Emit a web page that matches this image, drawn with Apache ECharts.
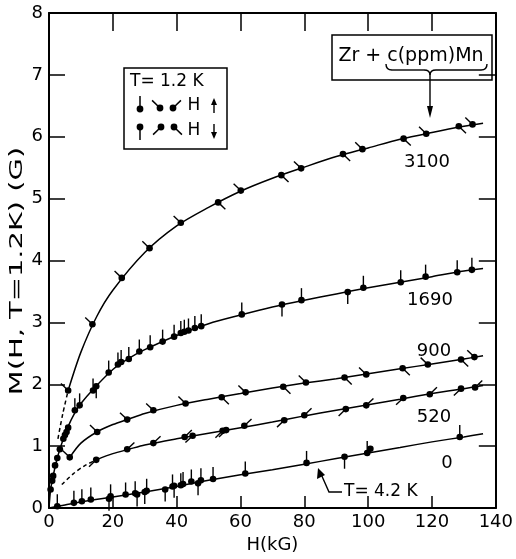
<!DOCTYPE html>
<html><head><meta charset="utf-8">
<script src="https://cdn.jsdelivr.net/npm/echarts@6/dist/echarts.min.js"></script>
<style>html,body{margin:0;padding:0;background:#fff}#c{width:516px;height:559px}</style>
</head><body><div id="c"></div>
<script>
// ---- axis ticks ----
const xTicks = [0, 20, 40, 60, 80, 100, 120, 140];
const yTicks = [0, 1, 2, 3, 4, 5, 6, 7, 8];

// ---- measured points: [H (kG), M (G), tick direction] ----
const pts3100 = [[6.0,1.90,'ul'],[13.6,2.97,'ul'],[22.8,3.72,'ul'],[31.5,4.20,'ul'],[41.3,4.61,'ul'],[53.0,4.94,'dr'],[60.1,5.13,'ul'],[72.8,5.38,'dr'],[79.0,5.49,'ul'],[92.1,5.72,'dr'],[98.2,5.80,'ul'],[111.1,5.97,'dr'],[118.2,6.05,'ul'],[128.4,6.17,'dr'],[132.7,6.20,'ul']];
const pts1690 = [[0.5,0.30,'n'],[1.0,0.44,'n'],[1.3,0.52,'n'],[1.9,0.69,'n'],[2.6,0.81,'n'],[3.4,0.95,'n'],[4.5,1.12,'n'],[5.0,1.18,'n'],[5.5,1.23,'n'],[6.0,1.30,'n'],[8.1,1.58,'u'],[9.6,1.66,'u'],[13.8,1.90,'u'],[14.8,1.97,'d'],[18.7,2.19,'u'],[21.6,2.32,'u'],[22.6,2.36,'u'],[25.0,2.41,'u'],[28.3,2.53,'u'],[31.7,2.60,'u'],[35.6,2.69,'u'],[39.2,2.77,'u'],[41.3,2.83,'u'],[42.4,2.85,'u'],[43.7,2.87,'u'],[45.7,2.91,'u'],[47.7,2.94,'u'],[60.4,3.13,'u'],[73.0,3.29,'d'],[79.1,3.36,'u'],[93.6,3.49,'d'],[98.5,3.56,'u'],[110.2,3.65,'u'],[118.0,3.74,'u'],[127.9,3.81,'u'],[132.5,3.85,'u']];
const pts900 = [[6.5,0.82,'ul'],[15.1,1.23,'ul'],[24.5,1.43,'ul'],[32.7,1.58,'ul'],[42.8,1.69,'ul'],[54.1,1.79,'dr'],[61.6,1.87,'ul'],[73.4,1.96,'dr'],[80.5,2.03,'ul'],[92.6,2.11,'dr'],[99.4,2.16,'ul'],[110.8,2.26,'dr'],[118.7,2.32,'ul'],[129.1,2.40,'dr'],[133.3,2.44,'ul']];
const pts520 = [[14.8,0.78,'dl'],[24.5,0.95,'ur'],[32.7,1.05,'ur'],[42.5,1.15,'ur'],[45.0,1.17,'dl'],[54.4,1.25,'dl'],[55.5,1.26,'dl'],[61.2,1.33,'ur'],[73.7,1.42,'dl'],[80.0,1.50,'ur'],[93.0,1.60,'dl'],[99.4,1.66,'ur'],[111.0,1.78,'dl'],[119.3,1.84,'ur'],[129.1,1.93,'dl'],[133.5,1.95,'ur']];
const pts0 = [[2.6,0.03,'u'],[7.8,0.085,'u'],[10.3,0.11,'u'],[13.1,0.14,'u'],[18.8,0.15,'d'],[19.3,0.19,'u'],[24.0,0.22,'u'],[27.0,0.24,'u'],[27.6,0.22,'d'],[30.0,0.26,'d'],[30.6,0.28,'u'],[36.4,0.30,'d'],[38.7,0.35,'u'],[39.2,0.36,'d'],[41.3,0.37,'u'],[42.0,0.39,'u'],[44.6,0.43,'u'],[46.7,0.40,'d'],[47.6,0.45,'u'],[51.4,0.47,'u'],[61.5,0.56,'u'],[80.7,0.73,'u'],[92.6,0.83,'d'],[99.7,0.89,'u'],[100.7,0.96,'n'],[128.7,1.15,'u']];

// ---- fitted curves at regular H ----
const curve3100 = [[6,1.90],[10,2.52],[15,3.10],[20,3.52],[30,4.13],[40,4.56],[50,4.86],[60,5.12],[70,5.33],[80,5.51],[90,5.68],[100,5.82],[110,5.96],[120,6.07],[130,6.17],[136,6.22]];
const curve1690 = [[0,0],[0.5,0.30],[1.3,0.52],[2.6,0.81],[4.5,1.12],[6,1.32],[8,1.53],[10,1.69],[14,1.93],[20,2.24],[25,2.42],[30,2.56],[40,2.79],[50,2.98],[60,3.12],[70,3.25],[80,3.36],[90,3.46],[100,3.56],[110,3.65],[120,3.74],[130,3.83],[136,3.87]];
const curve900 = [[6.5,0.82],[10,1.05],[15,1.23],[20,1.35],[25,1.44],[30,1.53],[40,1.66],[50,1.76],[60,1.85],[70,1.94],[80,2.02],[90,2.09],[100,2.17],[110,2.25],[120,2.33],[130,2.41],[136,2.46]];
const curve520 = [[14.8,0.78],[20,0.88],[25,0.95],[30,1.02],[40,1.12],[50,1.21],[60,1.30],[70,1.39],[80,1.49],[90,1.58],[100,1.67],[110,1.76],[120,1.85],[130,1.93],[136,1.98]];
const curve0 = [[0,0],[5,0.05],[10,0.10],[20,0.18],[30,0.26],[40,0.35],[50,0.45],[60,0.54],[70,0.62],[80,0.71],[90,0.80],[100,0.89],[110,0.98],[120,1.07],[130,1.15],[136,1.20]];
const dash3100 = [[2.8,1.12],[4.3,1.52],[6.0,1.90]];
const dash520 = [[4.0,0.38],[7.5,0.55],[11,0.68],[14.8,0.78]];

const curveLabels = ['3100', '1690', '900', '520', '0'];

const FONT = 'DejaVu Sans';
const DIRS = {u:[0,-1], d:[0,1], ul:[-0.72,-0.69], ur:[0.72,-0.69], dl:[-0.72,0.69], dr:[0.72,0.69]};

function lineSeries(data, dashed){
  return {type:'line', data:data, showSymbol:false, smooth:0.3, z:3,
    lineStyle:{color:'#000', width:1.5, type: dashed ? [4,3] : 'solid'}, silent:true, animation:false};
}
function pinSeries(pts){
  return {type:'custom', coordinateSystem:'cartesian2d', z:5, animation:false, silent:true,
    data: pts.map(p => [p[0], p[1]]),
    renderItem: function(params, api){
      const c = api.coord([api.value(0), api.value(1)]);
      const d = DIRS[pts[params.dataIndex][2]];
      const ch = [];
      if (d) {
        const L = (d[0] === 0) ? 12 : 10;
        ch.push({type:'line', shape:{x1:c[0], y1:c[1], x2:c[0]+d[0]*L, y2:c[1]+d[1]*L},
          style:{stroke:'#000', lineWidth:1.4}});
      }
      ch.push({type:'circle', shape:{cx:c[0], cy:c[1], r:3.3}, style:{fill:'#000'}});
      return {type:'group', children:ch};
    }};
}

function legendPin(x, y, dir){
  const d = DIRS[dir], L = (d[0] === 0) ? 13 : 11;
  return [
    {type:'line', shape:{x1:x, y1:y, x2:x+d[0]*L, y2:y+d[1]*L}, style:{stroke:'#000', lineWidth:1.5}},
    {type:'circle', shape:{cx:x, cy:y, r:3.4}, style:{fill:'#000'}}
  ];
}
function bez(x1,y1,cx,cy,x2,y2){
  return {type:'bezierCurve', shape:{x1:x1,y1:y1,x2:x2,y2:y2,cpx1:cx,cpy1:cy}, style:{stroke:'#000', lineWidth:1.4, fill:null}};
}

const axisCommon = {type:'value', splitLine:{show:false},
  axisLine:{show:true, onZero:false, lineStyle:{color:'#000', width:2}}};

const chart = echarts.init(document.getElementById('c'), null, {renderer:'canvas'});
chart.setOption({
  backgroundColor:'#fff',
  animation:false,
  grid:{left:49, right:17, top:13, bottom:44, containLabel:false},
  xAxis:[
    Object.assign({}, axisCommon, {position:'bottom', min:xTicks[0], max:xTicks[xTicks.length-1], interval:20,
      axisTick:{inside:true, length:12, lineStyle:{color:'#000', width:1.5}},
      axisLabel:{color:'#000', fontSize:18, fontFamily:FONT, margin:5},
      name:'H(kG)', nameLocation:'middle', nameGap:25,
      nameTextStyle:{color:'#000', fontSize:18, fontFamily:FONT}}),
    Object.assign({}, axisCommon, {position:'top', min:xTicks[0], max:xTicks[xTicks.length-1], interval:20,
      axisTick:{inside:true, length:18, lineStyle:{color:'#000', width:1.5}}, axisLabel:{show:false}})
  ],
  yAxis:[
    Object.assign({}, axisCommon, {position:'left', min:yTicks[0], max:yTicks[yTicks.length-1], interval:1,
      axisTick:{inside:true, length:16, lineStyle:{color:'#000', width:1.5}},
      axisLabel:{color:'#000', fontSize:18, fontFamily:FONT, margin:6}}),
    Object.assign({}, axisCommon, {position:'right', min:yTicks[0], max:yTicks[yTicks.length-1], interval:1,
      axisTick:{inside:true, length:17, lineStyle:{color:'#000', width:1.5}}, axisLabel:{show:false}})
  ],
  series:[
    lineSeries(curve3100), lineSeries(curve1690), lineSeries(curve900), lineSeries(curve520), lineSeries(curve0),
    lineSeries(dash3100, true), lineSeries(dash520, true),
    pinSeries(pts3100), pinSeries(pts1690), pinSeries(pts900), pinSeries(pts520), pinSeries(pts0)
  ],
  graphic:[
    // y axis name
    {type:'text', x:18, y:271, rotation:Math.PI/2, scaleX:1.7,
      style:{text:'M(H, T=1.2K) (G)', fill:'#000', font:'17px "DejaVu Sans"', align:'center', verticalAlign:'middle'}},
    // curve labels
    {type:'text', x:427, y:162, style:{text:curveLabels[0], fill:'#000', font:'18px "DejaVu Sans"', align:'center', verticalAlign:'middle'}},
    {type:'text', x:430, y:300, style:{text:curveLabels[1], fill:'#000', font:'18px "DejaVu Sans"', align:'center', verticalAlign:'middle'}},
    {type:'text', x:434, y:351, style:{text:curveLabels[2], fill:'#000', font:'18px "DejaVu Sans"', align:'center', verticalAlign:'middle'}},
    {type:'text', x:434, y:417, style:{text:curveLabels[3], fill:'#000', font:'18px "DejaVu Sans"', align:'center', verticalAlign:'middle'}},
    {type:'text', x:447, y:463, style:{text:curveLabels[4], fill:'#000', font:'18px "DejaVu Sans"', align:'center', verticalAlign:'middle'}},
    // T=4.2K annotation
    {type:'text', x:344, y:492, style:{text:'T= 4.2 K', fill:'#000', font:'17px "DejaVu Sans"', align:'left', verticalAlign:'middle'}},
    {type:'polyline', shape:{points:[[342,492],[329,492],[321,474]]}, style:{stroke:'#000', lineWidth:1.4, fill:null}},
    {type:'polygon', shape:{points:[[318,468],[317,479],[325,475]]}, style:{fill:'#000'}},
    // Zr box
    {type:'rect', shape:{x:332, y:35, width:160, height:45}, style:{stroke:'#000', lineWidth:1.5, fill:'#fff'}},
    {type:'text', x:411, y:56, style:{text:'Zr + c(ppm)Mn', fill:'#000', font:'19px "DejaVu Sans"', align:'center', verticalAlign:'middle'}},
    bez(386,64, 386,70, 392,70),
    {type:'line', shape:{x1:392, y1:70, x2:424, y2:70}, style:{stroke:'#000', lineWidth:1.4}},
    bez(424,70, 430,70, 430,75),
    bez(430,75, 430,70, 436,70),
    {type:'line', shape:{x1:436, y1:70, x2:481, y2:70}, style:{stroke:'#000', lineWidth:1.4}},
    bez(481,70, 487,70, 487,64),
    {type:'line', shape:{x1:430, y1:75, x2:430, y2:110}, style:{stroke:'#000', lineWidth:1.4}},
    {type:'polygon', shape:{points:[[427,106],[433,106],[430,118]]}, style:{fill:'#000'}},
    // legend box
    {type:'group', children:[
      {type:'rect', shape:{x:124, y:68, width:103, height:81}, style:{stroke:'#000', lineWidth:1.5, fill:'#fff'}},
      {type:'text', x:130, y:82, style:{text:'T= 1.2 K', fill:'#000', font:'17px "DejaVu Sans"', align:'left', verticalAlign:'middle'}},
      ...legendPin(140, 109, 'u'), ...legendPin(160, 108, 'ul'), ...legendPin(173, 108, 'ur'),
      {type:'text', x:194, y:106, style:{text:'H', fill:'#000', font:'17px "DejaVu Sans"', align:'center', verticalAlign:'middle'}},
      {type:'line', shape:{x1:214, y1:100, x2:214, y2:113}, style:{stroke:'#000', lineWidth:1.4}},
      {type:'polygon', shape:{points:[[211,105],[217,105],[214,98]]}, style:{fill:'#000'}},
      ...legendPin(140, 127, 'd'), ...legendPin(161, 127, 'dl'), ...legendPin(174, 127, 'dr'),
      {type:'text', x:194, y:131, style:{text:'H', fill:'#000', font:'17px "DejaVu Sans"', align:'center', verticalAlign:'middle'}},
      {type:'line', shape:{x1:214, y1:124, x2:214, y2:137}, style:{stroke:'#000', lineWidth:1.4}},
      {type:'polygon', shape:{points:[[211,132],[217,132],[214,139]]}, style:{fill:'#000'}}
    ]}
  ]
});
</script>
</body></html>
